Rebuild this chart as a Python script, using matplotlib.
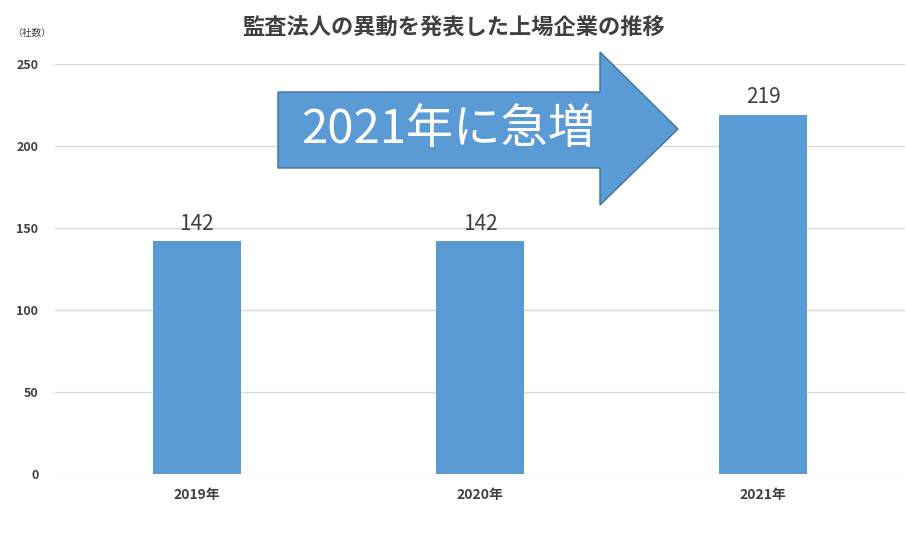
import matplotlib.pyplot as plt
from matplotlib.patches import Polygon

plt.rcParams['font.family'] = ['Noto Sans CJK JP', 'DejaVu Sans']

years = ["2019年", "2020年", "2021年"]
companies = [142, 142, 219]
yticks = [0, 50, 100, 150, 200, 250]

W, H = 906, 550
fig = plt.figure(figsize=(W / 100, H / 100), dpi=100)
ax = fig.add_axes([55 / W, 1 - 474 / H, 850 / W, 410 / H])

x = range(len(years))
bars = ax.bar(x, companies, width=0.31, color="#5B9BD5", zorder=2)
for b, v in zip(bars, companies):
    ax.text(b.get_x() + b.get_width() / 2, v + 4, str(v), ha="center", va="bottom",
            fontsize=15, color="#404040")

ax.set_xlim(-0.5, 2.5)
ax.set_ylim(0, 250)
ax.set_yticks(yticks)
ax.set_yticklabels([str(t) for t in yticks], fontsize=9, fontweight="bold", color="#404040")
ax.set_xticks(list(x))
ax.set_xticklabels(years, fontsize=10, fontweight="bold", color="#404040")
ax.tick_params(length=0, pad=12)
ax.tick_params(axis="x", pad=10)
ax.grid(axis="y", color="#d9d9d9", linewidth=1, zorder=0)
for s in ax.spines.values():
    s.set_visible(False)

fig.text(0.5, 1 - 28 / H, "監査法人の異動を発表した上場企業の推移", ha="center", va="center",
         fontsize=16, fontweight="bold", color="#404040")
fig.text(12 / W, 1 - 33 / H, "（社数）", ha="left", va="center", fontsize=7, color="#404040")

# big arrow in pixel coordinates
pts = [(278, 92), (600, 92), (600, 52), (678, 129), (600, 205), (600, 168), (278, 168)]
poly = Polygon([(px / W, 1 - py / H) for px, py in pts], closed=True,
               transform=fig.transFigure, facecolor="#5B9BD5", edgecolor="#41719C",
               linewidth=1, zorder=5)
fig.patches.append(poly)
fig.text(448 / W, 1 - 130 / H, "2021年に急増", ha="center", va="center",
         fontsize=34, color="white", zorder=6)

fig.savefig("out.png", dpi=100)
